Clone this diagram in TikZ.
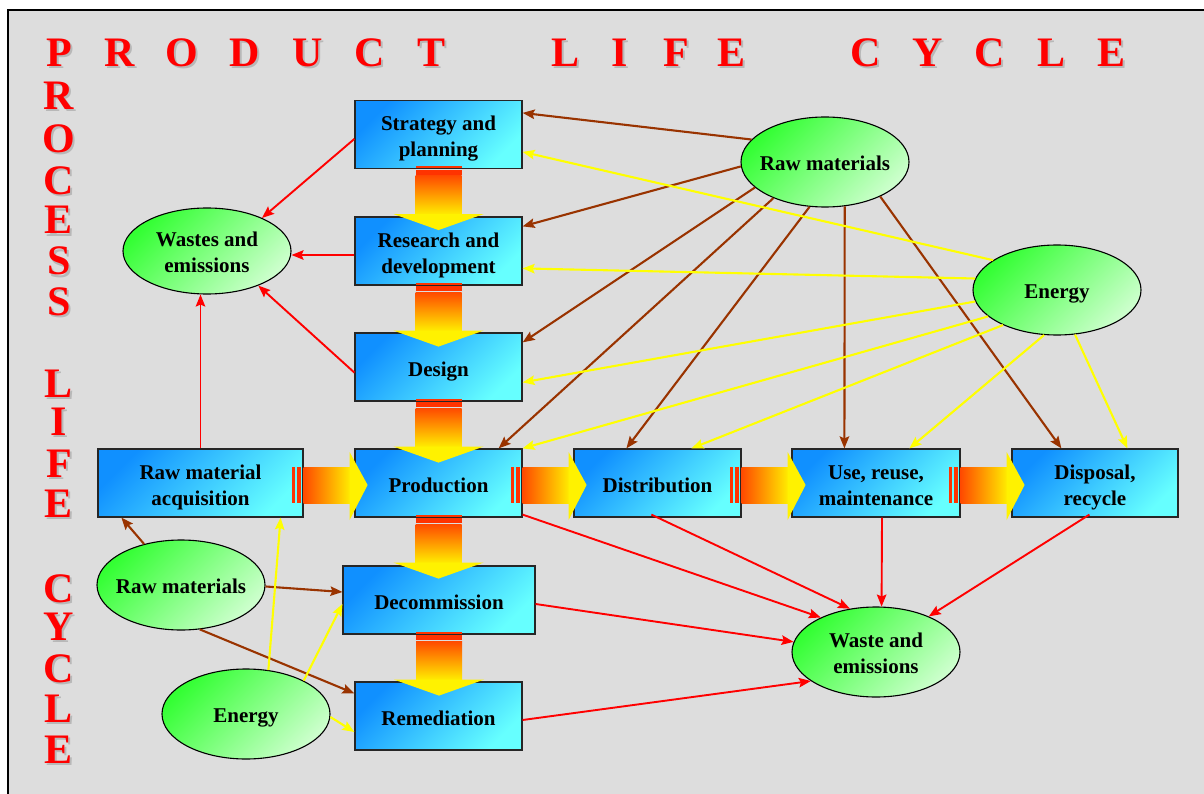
\documentclass[tikz,border=0pt]{standalone}
\usepackage{fontspec}
\setmainfont{Liberation Serif}
\usetikzlibrary{shapes.geometric,arrows.meta,calc}

\definecolor{panel}{HTML}{DDDDDD}
\definecolor{boxA}{HTML}{1090FF}
\definecolor{boxB}{HTML}{66FFFF}
\definecolor{ovalA}{HTML}{33FF33}
\definecolor{ovalB}{HTML}{CCFFCC}
\definecolor{rawbrown}{HTML}{993300}
\definecolor{enyellow}{HTML}{FFFF00}
\definecolor{flowA}{HTML}{FF4A00}
\definecolor{flowB}{HTML}{FFEE00}
\definecolor{flowtip}{HTML}{FFF200}
\definecolor{stripered}{HTML}{FF3300}

\newcommand\stagefont{\fontsize{21}{26}\selectfont\bfseries}
\newcommand\titlefont{\fontsize{42}{42}\selectfont\bfseries}
% struts that give every label the same line metrics
\newcommand\boxtop{\rule{0pt}{23.5pt}}
\newcommand\ovaltop{\rule{0pt}{22pt}}
\newcommand\labelbot{\rule[-5pt]{0pt}{5pt}}
% letter with a soft grey drop shadow
\newcommand\shadowed[1]{\makebox[0pt][l]{\hspace{2pt}\raisebox{-2pt}{\color{black!28}#1}}#1}

% vertical block arrow hanging below a stage box
\newcommand\downflow[1]{%
  \begin{scope}[shift={(#1)}]
    \fill[flowstripe] (-23,-2.6) rectangle (23,-0.8);
    \fill[flowstripe] (-23,0.8) rectangle (23,5.5);
    \shade[top color=flowA,bottom color=flowB] (-23,6.5) rectangle (23,45.5);
    \fill[flowtip] (-45,45) -- (45,45) -- (0,61) -- cycle;
  \end{scope}}

% horizontal block arrow leaving the right side of a stage box
\newcommand\rightflow[1]{%
  \begin{scope}[shift={(#1)}]
    \fill[flowstripe] (-12,-16) rectangle (-9,20);
    \fill[flowstripe] (-7,-16) rectangle (-3,20);
    \shade[left color=flowA,right color=flowB] (0,-16) rectangle (47,20);
    \fill[flowtip] (46,-31) -- (46,37) -- (64,2) -- cycle;
  \end{scope}}

\begin{document}
\begin{tikzpicture}[x=1pt,y=-1pt,
  stage/.style={rectangle, draw=black!85, line width=1.2pt,
    minimum width=167pt, minimum height=68pt, inner sep=0pt,
    align=center, font=\stagefont,
    top color=boxA, bottom color=boxB, shading angle=45},
  resource/.style={ellipse, draw=black, line width=1.1pt,
    minimum width=168pt, minimum height=90pt, inner xsep=-7pt, inner ysep=0pt,
    align=center, font=\stagefont,
    top color=ovalA, bottom color=ovalB, shading angle=45},
  flowstripe/.style={fill=stripered},
  feed/.style={line width=2.1pt, -{Stealth[length=12pt,width=9.5pt,inset=2pt]}},
  brownfeed/.style={feed, draw=rawbrown},
  yellowfeed/.style={feed, draw=enyellow},
  redfeed/.style={feed, draw=red, line width=1.9pt},
  tletter/.style={text=red, font=\titlefont, anchor=base, inner sep=0pt}]

\useasboundingbox (0,0) rectangle (1204,794);
\fill[white] (0,0) rectangle (1204,794);
\fill[panel] (8,10) rectangle (1204,794);
\draw[black, line width=1.5pt] (8,794) -- (8,10) -- (1204,10);

% title letters
\foreach \c/\x [count=\i] in {P/59,R/120,O/182,D/245,U/308,C/370,T/432,
    L/565,I/620,F/676,E/731,C/866,Y/928,C/990,L/1051,E/1111}
  \node[tletter] (h\i) at (\x,67) {\shadowed{\c}};
\foreach \c/\y [count=\i] in {R/110,O/153,C/195,E/234,S/275,S/315,
    L/397,I/435,F/477,E/517,C/602,Y/640,C/682,L/722,E/763}
  \node[tletter] (v\i) at (59,\y) {\shadowed{\c}};

% stages
\node[stage] (strat)  at (438.5,134.5) {\boxtop Strategy and\\planning\labelbot};
\node[stage] (rd)     at (438.5,251)   {\boxtop Research and\\development\labelbot};
\node[stage] (design) at (438.5,367)   {\boxtop Design\labelbot};
\node[stage] (prod)   at (438.5,483)   {\boxtop Production\labelbot};
\node[stage, minimum width=205pt] (rma) at (200.5,483) {\boxtop Raw material\\acquisition\labelbot};
\node[stage] (dist)   at (657.5,483)   {\boxtop Distribution\labelbot};
\node[stage, minimum width=168pt] (use) at (876,483) {\boxtop Use, reuse,\\maintenance\labelbot};
\node[stage, minimum width=166pt] (disp) at (1095,483) {\boxtop Disposal,\\recycle\labelbot};
\node[stage, minimum width=192pt] (decom) at (439,600) {\boxtop Decommission\labelbot};
\node[stage] (remed)  at (438.5,716)   {\boxtop Remediation\labelbot};

% resources and outputs
\node[resource] (R1) at (825,162)   {\ovaltop Raw materials\labelbot};
\node[resource] (E1) at (1057,290)  {\ovaltop Energy\labelbot};
\node[resource, minimum height=86pt] (W1) at (207,251) {\ovaltop Wastes and\\emissions\labelbot};
\node[resource] (R2) at (181,585)   {\ovaltop Raw materials\labelbot};
\node[resource] (E2) at (246,714)   {\ovaltop Energy\labelbot};
\node[resource] (W2) at (876,652)   {\ovaltop Waste and\\emissions\labelbot};

% block arrows of the life cycle
\downflow{strat.south}
\downflow{rd.south}
\downflow{design.south}
\downflow{prod.south}
\downflow{decom.south}
\rightflow{rma.east}
\rightflow{prod.east}
\rightflow{dist.east}
\rightflow{use.east}

% raw material inputs
\draw[brownfeed] (R1.163) -- ($(strat.north east)+(0,13)$);
\draw[brownfeed] (R1.183) -- ($(rd.north east)+(0,10)$);
\draw[brownfeed] (R1.200) -- ($(design.north east)+(0,10)$);
\draw[brownfeed] (R1.215) -- ($(prod.north east)+(-24,0)$);
\draw[brownfeed] (R1.251) -- ($(dist.north west)+(53,0)$);
\draw[brownfeed] (R1.294) -- ($(use.north west)+(53,0)$);
\draw[brownfeed] (R1.328) -- ($(disp.north west)+(50,0)$);
\draw[brownfeed] (R2.132) -- ($(rma.south west)+(24,0)$);
\draw[brownfeed] (R2.-1)  -- ($(decom.west)+(0,-8)$);
\draw[brownfeed] (R2.293) -- ($(remed.north west)+(0,12)$);

% energy inputs
\draw[yellowfeed] (E1.155) -- ($(strat.north east)+(0,52)$);
\draw[yellowfeed] (E1.172) -- ($(rd.north east)+(0,52)$);
\draw[yellowfeed] (E1.188) -- ($(design.north east)+(0,50)$);
\draw[yellowfeed] (E1.201) -- (prod.north east);
\draw[yellowfeed] (E1.213) -- ($(dist.north west)+(118,0)$);
\draw[yellowfeed] (E1.254) -- ($(use.north west)+(118,0)$);
\draw[yellowfeed] (E1.292) -- ($(disp.north west)+(116,0)$);
\draw[yellowfeed] (E2.63)  -- ($(rma.south east)+(-23,0)$);
\draw[yellowfeed] (E2.30)  -- ($(decom.west)+(0,4)$);
\draw[yellowfeed] (E2.358) -- ($(remed.west)+(0,16)$);

% wastes and emissions
\draw[redfeed] ($(strat.north west)+(0,39)$) -- (W1.31);
\draw[redfeed] ($(rd.west)+(0,4)$) -- ($(W1.east)+(0,4)$);
\draw[redfeed] ($(design.south west)+(0,-29)$) -- (W1.326);
\draw[redfeed] (rma.north) -- (rma.north |- W1.south);
\draw[redfeed] ($(prod.south east)+(0,-3)$) -- (W2.148);
\draw[redfeed] ($(dist.south west)+(78,-3)$) -- (W2.121);
\draw[redfeed] ($(use.south)+(6,0)$) -- (W2.83);
\draw[redfeed] ($(disp.south west)+(78,-3)$) -- (W2.34);
\draw[redfeed] ($(decom.east)+(0,4)$) -- (W2.173);
\draw[redfeed] ($(remed.east)+(0,4)$) -- (W2.204);
\end{tikzpicture}
\end{document}
